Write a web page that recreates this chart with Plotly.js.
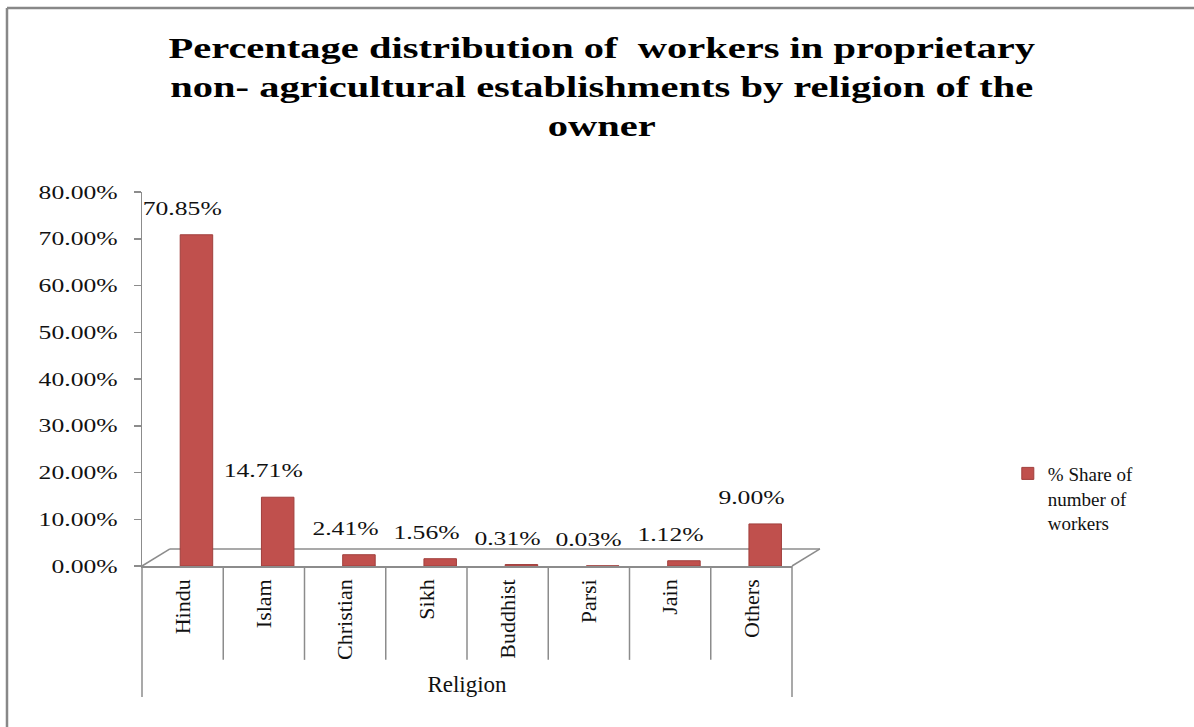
<!DOCTYPE html>
<html>
<head>
<meta charset="utf-8">
<script src="https://cdn.plot.ly/plotly-3.0.1.min.js"></script>
<style>
  html, body { margin: 0; padding: 0; background: #fff; }
  #chart { width: 1194px; height: 727px; }
  #chart g.g-gtitle { transform-box: fill-box; transform-origin: center; transform: scaleX(1.35); }
  #chart g.ytick { transform-box: fill-box; transform-origin: right center; transform: scaleX(1.35); }
  #chart text.annotation-text { transform-box: fill-box; transform-origin: center; transform: scaleX(1.35); }
</style>
</head>
<body>
<div id="chart"></div>
<script>
// ---- data ----
const categories = ["Hindu", "Islam", "Christian", "Sikh", "Buddhist", "Parsi", "Jain", "Others"];
const sharePct = [70.85, 14.71, 2.41, 1.56, 0.31, 0.03, 1.12, 9.00];
const seriesName = "% Share of<br>number of<br>workers";
const yTickVals = [0, 10, 20, 30, 40, 50, 60, 70, 80];
const yTickText = ["0.00%", "10.00%", "20.00%", "30.00%", "40.00%", "50.00%", "60.00%", "70.00%", "80.00%"];
const titleText = "Percentage distribution of  workers in proprietary<br>non- agricultural establishments by religion of the<br>owner";
const xTitle = "Religion";

// ---- styles ----
const serif = "Liberation Serif, Times New Roman, serif";
const red = "#C0504D";
const gray = "#8C8C8C";
const textCol = "#111111";

const trace = {
  type: "bar",
  x: categories,
  y: sharePct,
  name: seriesName,
  width: 0.4,
  offset: -0.03,
  marker: { color: red, line: { color: "#A03F3C", width: 1 } },
  hoverinfo: "x+y",
  showlegend: true
};

// data labels built from the arrays
const annotations = categories.map((c, i) => ({
  x: c, y: sharePct[i], xref: "x", yref: "y",
  text: sharePct[i].toFixed(2) + "%",
  showarrow: false, yanchor: "bottom", yshift: 14,
  font: { family: serif, size: 19, color: textCol }
}));

// separator lines between category boxes below the axis
const shapes = [];
for (let i = 1; i < categories.length; i++) {
  shapes.push({ type: "line", xref: "x", yref: "y domain", x0: i - 0.5, x1: i - 0.5, y0: 0, y1: -0.251,
    line: { color: gray, width: 1.5 } });
}
// outer edges of the category box
[0, 1].forEach(xd => shapes.push({ type: "line", xref: "x domain", yref: "y domain",
  x0: xd, x1: xd, y0: 0, y1: -0.350, line: { color: gray, width: 1.5 } }));
// 3D floor
const dx = 0.043, dy = 0.0455;
shapes.push({ type: "line", xref: "x domain", yref: "y domain", x0: dx, x1: 1 + dx, y0: dy, y1: dy, line: { color: gray, width: 1.5 }, layer: "below" });
shapes.push({ type: "line", xref: "x domain", yref: "y domain", x0: 0, x1: dx, y0: 0, y1: dy, line: { color: gray, width: 1.5 }, layer: "below" });
shapes.push({ type: "line", xref: "x domain", yref: "y domain", x0: 1, x1: 1 + dx, y0: 0, y1: dy, line: { color: gray, width: 1.5 }, layer: "below" });
// chart area border (top and left)
shapes.push({ type: "line", xref: "paper", yref: "paper", x0: -0.2077, x1: 1.63, y0: 1.492, y1: 1.492, line: { color: "#888888", width: 2.5 } });
shapes.push({ type: "line", xref: "paper", yref: "paper", x0: -0.2077, x1: -0.2077, y0: 1.492, y1: -0.45, line: { color: "#888888", width: 2.5 } });

const layout = {
  width: 1194, height: 727,
  margin: { l: 142, r: 402, t: 192, b: 161 },
  paper_bgcolor: "#ffffff", plot_bgcolor: "rgba(0,0,0,0)",
  title: {
    text: titleText,
    font: { family: serif, size: 30, color: "#000000", weight: "bold" },
    x: 0.504, xanchor: "center", xref: "container",
    y: 1 - 58 / 727, yanchor: "top", yref: "container"
  },
  showlegend: true,
  legend: {
    x: 1.332, xanchor: "left", y: 0.298, yanchor: "top",
    font: { family: serif, size: 19, color: textCol },
    itemwidth: 30, valign: "top", bgcolor: "rgba(0,0,0,0)"
  },
  xaxis: {
    type: "category", range: [-0.5, 7.5],
    showline: true, linecolor: gray, linewidth: 1.5,
    ticks: "", showgrid: false, zeroline: false,
    tickangle: -90,
    tickfont: { family: serif, size: 22, color: textCol },
    ticklabelstandoff: 3,
    title: { text: xTitle, font: { family: serif, size: 23, color: textCol }, standoff: 17 }
  },
  yaxis: {
    range: [0, 80], tickvals: yTickVals, ticktext: yTickText,
    showline: true, linecolor: gray, linewidth: 1.5,
    ticks: "outside", ticklen: 7, tickcolor: gray, tickwidth: 1.5,
    showgrid: false, zeroline: false,
    tickfont: { family: serif, size: 19, color: textCol },
    ticklabelstandoff: 12
  },
  shapes: shapes,
  annotations: annotations,
  bargap: 0.6
};

Plotly.newPlot("chart", [trace], layout, { displayModeBar: false, staticPlot: true });
</script>
</body>
</html>
